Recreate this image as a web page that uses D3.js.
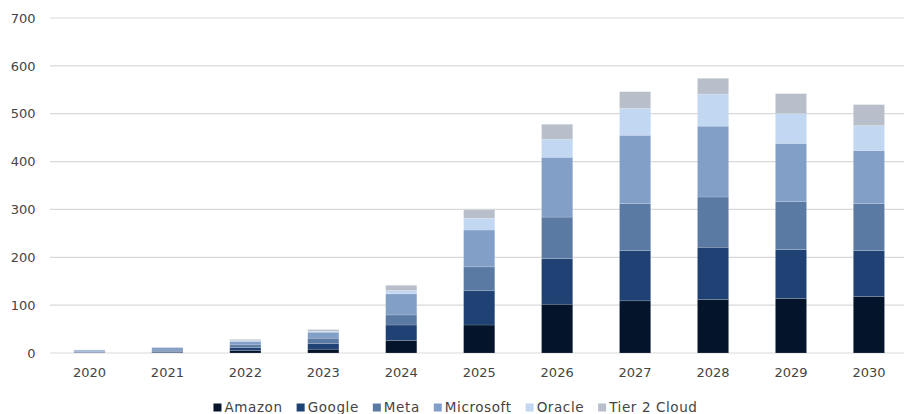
<!DOCTYPE html>
<html><head><meta charset="utf-8">
<script src="https://cdn.jsdelivr.net/npm/d3@7"></script>
<style>body{margin:0;background:#fff}svg{display:block}text{font-family:"DejaVu Sans",sans-serif}</style>
</head><body><svg id="c" width="904" height="414"></svg>
<script>
const years = ["2020","2021","2022","2023","2024","2025","2026","2027","2028","2029","2030"];
const seriesNames = ["Amazon","Google","Meta","Microsoft","Oracle","Tier 2 Cloud"];
const amazon    = [0.5, 1, 5, 8, 26, 58.5, 102, 109, 112, 114, 118];
const google    = [0.5, 2, 6, 12, 32.5, 71.5, 95, 105, 109, 102, 96];
const meta      = [2, 3, 6, 11, 21, 50, 87, 98, 105, 100, 98];
const microsoft = [3, 5, 7.5, 12.5, 44, 77, 125, 143, 148, 122, 111];
const oracle    = [0, 0.5, 1.5, 2, 7, 24.5, 38, 56, 67, 62, 52];
const tier2     = [0.5, 1, 2.5, 3.5, 11, 18, 31, 35, 33, 42, 44];
const yTicks = [0,100,200,300,400,500,600,700];
const colors = ["#04142a","#1f4173","#5b7aa3","#829fc8","#c2d7f2","#b8bfca"];

const seriesVals = [amazon, google, meta, microsoft, oracle, tier2];
const rows = years.map((y,i)=>{const r={year:y}; seriesNames.forEach((s,j)=>r[s]=seriesVals[j][i]); return r;});
const stacked = d3.stack().keys(seriesNames)(rows);

const svg = d3.select("#c");
const x = d3.scaleBand().domain(years).range([50.5, 907.9]).paddingInner(0.6).paddingOuter(0.3);
const y = d3.scaleLinear().domain([0,700]).range([353,18]);

svg.append("g").selectAll("line").data(yTicks).join("line")
  .attr("x1",50).attr("x2",904).attr("y1",d=>y(d)).attr("y2",d=>y(d))
  .attr("stroke","#d9d9d9").attr("stroke-width",1.2);

const yAxis = svg.append("g").attr("transform","translate(35.5,0)")
  .call(d3.axisLeft(y).tickValues(yTicks).tickSize(0).tickPadding(0));
yAxis.select(".domain").remove();
yAxis.selectAll("text").attr("font-size",13).attr("fill","#444").style("font-family","DejaVu Sans");

svg.append("g").selectAll("g").data(stacked).join("g")
  .attr("fill",(d,i)=>colors[i])
  .selectAll("rect").data(d=>d).join("rect")
  .attr("x",d=>x(d.data.year)).attr("width",x.bandwidth())
  .attr("y",d=>y(d[1])).attr("height",d=>Math.max(0,y(d[0])-y(d[1])))
  .attr("stroke","#ffffff").attr("stroke-opacity",0.3).attr("stroke-width",0.5);

const xAxis = svg.append("g").attr("transform","translate(0,368)")
  .call(d3.axisBottom(x).tickSize(0).tickPadding(0));
xAxis.select(".domain").remove();
xAxis.selectAll("text").attr("font-size",13).attr("fill","#444").attr("dy","0.71em").style("font-family","DejaVu Sans");

const leg = svg.append("g");
const items = leg.selectAll("g").data(seriesNames).join("g");
items.append("rect").attr("width",8).attr("height",8).attr("y",-8.5).attr("fill",(d,i)=>colors[i]);
items.append("text").attr("x",11).attr("font-size",13.5).attr("letter-spacing",0.6).attr("fill","#444").text(d=>d);
let pos=0; const gap=14;
items.each(function(){const w=d3.select(this).select("text").node().getComputedTextLength(); d3.select(this).attr("transform",`translate(${pos},0)`); pos+=11+w+gap;});
const total=pos-gap;
leg.attr("transform",`translate(${455.5-total/2},412)`);
</script></body></html>
